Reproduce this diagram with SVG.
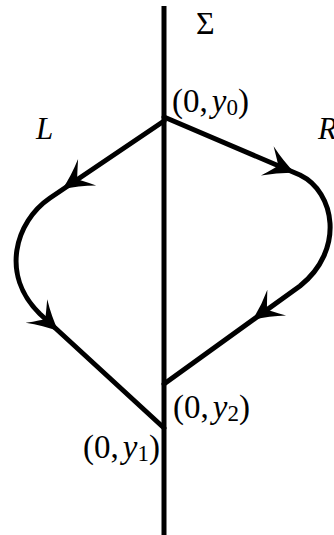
<svg xmlns="http://www.w3.org/2000/svg" width="334" height="535" viewBox="0 0 334 535">
<style>
.ln{fill:none;stroke:#000;stroke-width:5;stroke-linejoin:round;stroke-linecap:round}
.t{font-family:"Liberation Serif","Times New Roman",serif;font-size:33px;fill:#000}
.it{font-style:italic}
.sub{font-size:23px}
</style>
<defs>
<path id="ah" d="M2,0 Q-13,-6 -28,-16 Q-18,-3 -16,0 Q-18,3 -28,16 Q-13,6 2,0 Z" fill="#000"/>
</defs>
<rect width="334" height="535" fill="#fff"/>
<g id="sigma-axis">
<line x1="164" y1="6" x2="164" y2="535" stroke="#000" stroke-width="5"/>
</g>
<g id="connectors">
<path id="L" class="ln" d="M164,121 L50,198 C15,222 0,275 40,314 L164,428"/>
<path id="R" class="ln" d="M164,117 L300,175 C335,192 345,250 300,286 L164,384"/>
<use href="#ah" transform="translate(64,188) rotate(145.6)"/>
<use href="#ah" transform="translate(57,330) rotate(42.6)"/>
<use href="#ah" transform="translate(293,172) rotate(23.3)"/>
<use href="#ah" transform="translate(254,319) rotate(144.2)"/>
</g>
<g id="labels">
<text class="t" x="196" y="34" style="font-size:32px">Σ</text>
<text class="t it" x="36" y="139" style="font-size:31px">L</text>
<text class="t it" x="318" y="139" style="font-size:31px">R</text>
<text class="t" x="172" y="112">(0,<tspan class="it" dx="4">y</tspan><tspan class="sub" dy="3">0</tspan><tspan dy="-3">)</tspan></text>
<text class="t" x="173" y="418">(0,<tspan class="it" dx="4">y</tspan><tspan class="sub" dy="3">2</tspan><tspan dy="-3">)</tspan></text>
<text class="t" x="83" y="458">(0,<tspan class="it" dx="4">y</tspan><tspan class="sub" dy="3">1</tspan><tspan dy="-3">)</tspan></text>
</g>
</svg>
